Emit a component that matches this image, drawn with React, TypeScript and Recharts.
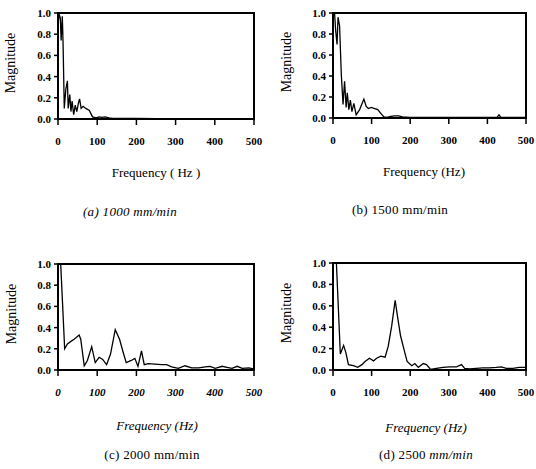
import React from 'react';
import * as R from 'recharts';
import { LineChart, Line, XAxis, YAxis, ReferenceLine } from 'recharts';

const FREQ_TICKS = [0, 100, 200, 300, 400, 500];
const MAG_TICKS = [0, 0.2, 0.4, 0.6, 0.8, 1.0];

// (a) 1000 mm/min
const FREQ_A = [1, 3, 6, 8, 11, 13, 16, 20, 24, 26, 30, 33, 36, 40, 44, 48, 52, 55, 59, 64, 71, 80, 88, 97, 105, 112, 120, 130, 140, 160, 200, 250, 300, 350, 400, 450, 500];
const MAG_A = [0.92, 0.99, 0.95, 0.74, 0.97, 0.7, 0.1, 0.28, 0.36, 0.1, 0.23, 0.07, 0.17, 0.04, 0.13, 0.07, 0.15, 0.19, 0.1, 0.12, 0.1, 0.08, 0.02, 0.01, 0.02, 0.015, 0.02, 0.01, 0.005, 0.005, 0.005, 0.004, 0.004, 0.003, 0.004, 0.003, 0.003];

// (b) 1500 mm/min
const FREQ_B = [1, 4, 7, 10.5, 13, 17, 21.6, 26, 30, 34, 37, 41, 45, 49, 54, 60, 69, 80, 86, 92, 99, 108, 116, 125, 132, 140, 150, 160, 170, 180, 200, 250, 300, 350, 400, 425, 430, 435, 460, 500];
const MAG_B = [0.98, 1.0, 0.83, 0.7, 0.96, 0.88, 0.41, 0.13, 0.35, 0.1, 0.24, 0.08, 0.17, 0.06, 0.14, 0.03, 0.08, 0.18, 0.11, 0.09, 0.1, 0.09, 0.08, 0.04, 0.01, 0.005, 0.015, 0.02, 0.02, 0.01, 0.005, 0.005, 0.005, 0.005, 0.005, 0.005, 0.03, 0.005, 0.005, 0.005];

// (c) 2000 mm/min
const FREQ_C = [5, 17, 24, 33, 41, 54, 58, 67, 75, 86, 95, 105, 114, 124, 134, 146, 157, 166, 174, 187, 196, 204, 213, 220, 230, 247, 264, 277, 290, 307, 324, 341, 359, 376, 388, 401, 419, 431, 444, 457, 470, 487, 498];
const MAG_C = [1.15, 0.2, 0.245, 0.27, 0.29, 0.33, 0.29, 0.04, 0.09, 0.22, 0.07, 0.12, 0.1, 0.05, 0.15, 0.38, 0.29, 0.17, 0.07, 0.09, 0.11, 0.035, 0.18, 0.05, 0.06, 0.055, 0.05, 0.05, 0.03, 0.015, 0.04, 0.02, 0.02, 0.03, 0.035, 0.015, 0.035, 0.025, 0.015, 0.035, 0.015, 0.02, 0.01];

// (d) 2500 mm/min
const FREQ_D = [7, 19, 27.5, 33.5, 40, 53, 64, 75, 83, 94.5, 105, 113, 124, 135, 143, 152, 161, 168, 175, 184, 192, 204, 212, 221, 234, 242, 253, 268, 285, 302, 320, 333, 341, 354, 371, 388, 405, 423, 436, 449, 466, 483, 498];
const MAG_D = [1.15, 0.15, 0.23, 0.16, 0.05, 0.04, 0.025, 0.05, 0.08, 0.11, 0.085, 0.11, 0.13, 0.12, 0.22, 0.41, 0.65, 0.48, 0.32, 0.19, 0.08, 0.04, 0.06, 0.025, 0.06, 0.05, 0.005, 0.015, 0.025, 0.03, 0.03, 0.05, 0.015, 0.01, 0.015, 0.02, 0.02, 0.025, 0.03, 0.015, 0.015, 0.025, 0.025];

const FONT = '"Liberation Serif", "Times New Roman", serif';
const Y_W = 40;
const X_H = 30;
const frameLine = { stroke: '#000', strokeWidth: 2 };

const toRows = (f: number[], m: number[]) => f.map((hz, i) => ({ hz, mag: m[i] }));

// box around the plot area, taken from the chart's own layout
const usePlotBox: () => any = (R as any).usePlotArea || (() => null);
const Frame = () => {
  const area = usePlotBox();
  if (!area) return null;
  return <rect x={area.x} y={area.y} width={area.width} height={area.height} fill="none" stroke="#000" strokeWidth={2} />;
};

type PanelProps = {
  box: { left: number; top: number; width: number; height: number };
  plot: { left: number; right: number; top: number; bottom: number };
  rows: { hz: number; mag: number }[];
  xItalic?: boolean;
  freqLabel: React.ReactNode;
  freqPos: [number, number];
  caption: React.ReactNode;
  captionPos: [number, number];
  magPos: [number, number];
};

const Panel: React.FC<PanelProps> = ({ box, plot, rows, xItalic, freqLabel, freqPos, caption, captionPos, magPos }) => {
  const margin = {
    top: plot.top - box.top,
    right: box.left + box.width - plot.right,
    left: plot.left - box.left - Y_W,
    bottom: box.top + box.height - plot.bottom - X_H,
  };
  const tickStyle = { fontFamily: FONT, fontSize: 11, fontWeight: 700, fill: '#000' };
  return (
    <>
      <div style={{ position: 'absolute', left: box.left, top: box.top }}>
        <LineChart width={box.width} height={box.height} data={rows} margin={margin}>
          <XAxis
            dataKey="hz"
            type="number"
            domain={[0, 500]}
            ticks={FREQ_TICKS}
            height={X_H}
            tickSize={6}
            tickMargin={12}
            axisLine={frameLine}
            tickLine={{ stroke: '#000', strokeWidth: 1.5 }}
            tick={{ ...tickStyle, fontStyle: xItalic ? 'italic' : 'normal' }}
            interval={0}
          />
          <YAxis
            type="number"
            domain={[0, 1]}
            allowDataOverflow
            ticks={MAG_TICKS}
            width={Y_W}
            tickSize={4}
            tickMargin={3}
            axisLine={frameLine}
            tickLine={{ stroke: '#000', strokeWidth: 1.5 }}
            tick={tickStyle}
            tickFormatter={(v: number) => v.toFixed(1)}
            interval={0}
          />
          <ReferenceLine y={1} stroke="#000" strokeWidth={2} ifOverflow="visible" />
          <ReferenceLine x={500} stroke="#000" strokeWidth={2} ifOverflow="visible" />
          <Frame />
          <Line
            type="linear"
            dataKey="mag"
            stroke="#000"
            strokeWidth={1.3}
            dot={false}
            isAnimationActive={false}
          />
        </LineChart>
      </div>
      <div style={{ position: 'absolute', left: magPos[0], top: magPos[1], transform: 'translate(-50%, -50%) rotate(-90deg)', fontFamily: FONT, fontSize: 14, whiteSpace: 'nowrap' }}>
        Magnitude
      </div>
      <div style={{ position: 'absolute', left: freqPos[0], top: freqPos[1], transform: 'translate(-50%, -50%)', fontFamily: FONT, fontSize: 13, whiteSpace: 'nowrap' }}>
        {freqLabel}
      </div>
      <div style={{ position: 'absolute', left: captionPos[0], top: captionPos[1], transform: 'translate(-50%, -50%)', fontFamily: FONT, fontSize: 13, letterSpacing: 0.3, whiteSpace: 'nowrap' }}>
        {caption}
      </div>
    </>
  );
};

export default function App() {
  return (
    <div style={{ position: 'absolute', left: 0, top: 0, width: 536, height: 469, background: '#fff', overflow: 'hidden' }}>
      <Panel
        box={{ left: 0, top: 0, width: 268, height: 234 }}
        plot={{ left: 58, right: 254, top: 13, bottom: 119 }}
        rows={toRows(FREQ_A, MAG_A)}
        freqLabel="Frequency ( Hz )"
        freqPos={[156, 173]}
        caption={<i>(a) 1000 mm/min</i>}
        captionPos={[130, 212]}
        magPos={[11, 63]}
      />
      <Panel
        box={{ left: 268, top: 0, width: 268, height: 234 }}
        plot={{ left: 333, right: 526, top: 13, bottom: 118 }}
        rows={toRows(FREQ_B, MAG_B)}
        freqLabel="Frequency (Hz)"
        freqPos={[424, 172]}
        caption="(b) 1500 mm/min"
        captionPos={[400, 210]}
        magPos={[287, 62]}
      />
      <Panel
        box={{ left: 0, top: 235, width: 268, height: 234 }}
        plot={{ left: 58, right: 254, top: 264, bottom: 370 }}
        rows={toRows(FREQ_C, MAG_C)}
        xItalic
        freqLabel={<i>Frequency (Hz)</i>}
        freqPos={[157, 426]}
        caption="(c) 2000 mm/min"
        captionPos={[152, 455]}
        magPos={[12, 314]}
      />
      <Panel
        box={{ left: 268, top: 235, width: 268, height: 234 }}
        plot={{ left: 333, right: 526, top: 263, bottom: 370 }}
        rows={toRows(FREQ_D, MAG_D)}
        freqLabel={<i>Frequency (Hz)</i>}
        freqPos={[426, 428]}
        caption={<span>(d) 2500 <i>mm/min</i></span>}
        captionPos={[426, 455]}
        magPos={[287, 313]}
      />
    </div>
  );
}
